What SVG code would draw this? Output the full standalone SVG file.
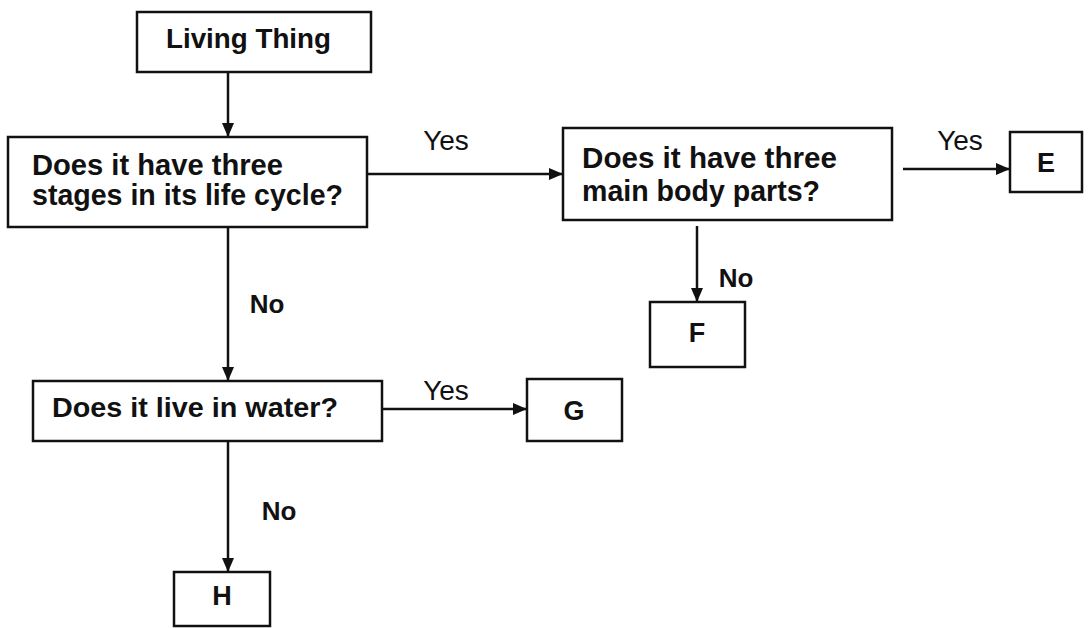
<svg xmlns="http://www.w3.org/2000/svg" width="1090" height="628" viewBox="0 0 1090 628">
<style>
.box{fill:#fff;stroke:#111;stroke-width:2.5}
.t{font-family:"Liberation Sans",Arial,sans-serif;font-weight:bold;fill:#111}
.lbl{font-family:"Liberation Sans",Arial,sans-serif;font-weight:normal;fill:#111;font-size:28px}
.no{font-family:"Liberation Sans",Arial,sans-serif;font-weight:bold;fill:#111;font-size:26px}
.c{stroke:#111;stroke-width:2.5;fill:none}
</style>
<defs>
<marker id="ah" viewBox="0 0 14 12" refX="14" refY="6" markerWidth="14" markerHeight="12" markerUnits="userSpaceOnUse" orient="auto">
<path d="M0,0 L14,6 L0,12 Z" fill="#111"/>
</marker>
</defs>
<rect width="1090" height="628" fill="#fff"/>
<g id="connectors">
<line class="c" x1="228" y1="72" x2="228" y2="137" marker-end="url(#ah)"/>
<line class="c" x1="367" y1="174" x2="563" y2="174" marker-end="url(#ah)"/>
<line class="c" x1="903" y1="169" x2="1010" y2="169" marker-end="url(#ah)"/>
<line class="c" x1="697" y1="226" x2="697" y2="302" marker-end="url(#ah)"/>
<line class="c" x1="228" y1="227" x2="228" y2="381" marker-end="url(#ah)"/>
<line class="c" x1="382" y1="409" x2="527" y2="409" marker-end="url(#ah)"/>
<line class="c" x1="228" y1="441" x2="228" y2="572" marker-end="url(#ah)"/>
<text class="lbl" x="446" y="150" text-anchor="middle">Yes</text>
<text class="lbl" x="960" y="150" text-anchor="middle">Yes</text>
<text class="lbl" x="446" y="400" text-anchor="middle">Yes</text>
<text class="no" x="736" y="287" text-anchor="middle">No</text>
<text class="no" x="267" y="313" text-anchor="middle">No</text>
<text class="no" x="279" y="520" text-anchor="middle">No</text>
</g>
<g id="living-thing">
<rect class="box" x="137" y="12" width="234" height="60"/>
<text class="t" x="166" y="48" font-size="28" textLength="165" lengthAdjust="spacingAndGlyphs">Living Thing</text>
</g>
<g id="q-three-stages">
<rect class="box" x="8" y="137" width="359" height="90"/>
<text class="t" font-size="30"><tspan x="32" y="175" textLength="251" lengthAdjust="spacingAndGlyphs">Does it have three</tspan><tspan x="32" y="205" textLength="311" lengthAdjust="spacingAndGlyphs">stages in its life cycle?</tspan></text>
</g>
<g id="q-body-parts">
<rect class="box" x="563" y="128" width="329" height="92"/>
<text class="t" font-size="29"><tspan x="582" y="168" textLength="255" lengthAdjust="spacingAndGlyphs">Does it have three</tspan><tspan x="582" y="201" textLength="238" lengthAdjust="spacingAndGlyphs">main body parts?</tspan></text>
</g>
<g id="e">
<rect class="box" x="1010" y="132" width="72" height="60"/>
<text class="t" x="1046" y="172" font-size="27" text-anchor="middle">E</text>
</g>
<g id="f">
<rect class="box" x="650" y="302" width="95" height="65"/>
<text class="t" x="697" y="342" font-size="27" text-anchor="middle">F</text>
</g>
<g id="q-water">
<rect class="box" x="33" y="381" width="349" height="60"/>
<text class="t" x="52" y="417" font-size="28" textLength="286" lengthAdjust="spacingAndGlyphs">Does it live in water?</text>
</g>
<g id="g">
<rect class="box" x="527" y="379" width="95" height="62"/>
<text class="t" x="574" y="420" font-size="27" text-anchor="middle">G</text>
</g>
<g id="h">
<rect class="box" x="174" y="572" width="96" height="54"/>
<text class="t" x="222" y="605" font-size="27" text-anchor="middle">H</text>
</g>
</svg>
